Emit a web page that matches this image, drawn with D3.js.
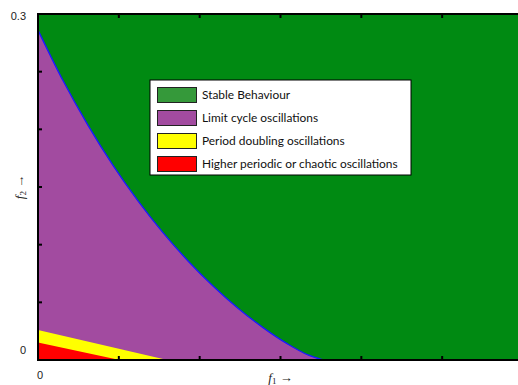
<!DOCTYPE html>
<html>
<head>
<meta charset="utf-8">
<script src="https://cdn.jsdelivr.net/npm/d3@7"></script>
<style>
  html, body { margin: 0; padding: 0; background: #fff; }
  svg { display: block; }
</style>
</head>
<body>
<script>
// Stability map of the (f1, f2) parameter plane.

// Boundary between stable behaviour and limit cycle oscillations
const boundaryF1 = [0, 0.0309, 0.0619, 0.0928, 0.1237, 0.1546, 0.1856, 0.2165, 0.2474, 0.2784, 0.3093, 0.3340, 0.3526];
const boundaryF2 = [0.2861, 0.2423, 0.2034, 0.1687, 0.1379, 0.1104, 0.0859, 0.0642, 0.0449, 0.0281, 0.0137, 0.0044, 0];

// Upper edge of the period doubling region
const doublingF1 = [0, 0.160];
const doublingF2 = [0.026, 0];

// Upper edge of the higher periodic / chaotic region
const chaoticF1 = [0, 0.101];
const chaoticF2 = [0.0152, 0];

const legendLabels = [
  "Stable Behaviour",
  "Limit cycle oscillations",
  "Period doubling oscillations",
  "Higher periodic or chaotic oscillations"
];
const regionColors = ["#008a12", "#a24ba0", "#ffff00", "#ff0000"];
const legendSwatchColors = ["#35993a", "#a24ba0", "#ffff00", "#ff0000"];

const xDomain = [0, 0.6];
const yDomain = [0, 0.3];
const xTicks = [0, 0.1, 0.2, 0.3, 0.4, 0.5, 0.6];
const yTicks = [0, 0.05, 0.1, 0.15, 0.2, 0.25, 0.3];
const xTickLabels = ["0"];
const yTickLabels = ["0", "0.3"];

const W = 518, H = 385;
const margin = { left: 38, top: 14, right: -5, bottom: 25 };

const svg = d3.select("body").append("svg").attr("width", W).attr("height", H);

const x = d3.scaleLinear().domain(xDomain).range([margin.left, W - margin.right]);
const y = d3.scaleLinear().domain(yDomain).range([H - margin.bottom, margin.top]);

const zip = (a, b) => a.map((v, i) => [v, b[i]]);

svg.append("clipPath").attr("id", "plotClip")
  .append("rect")
  .attr("x", x(xDomain[0])).attr("y", y(yDomain[1]))
  .attr("width", x(xDomain[1]) - x(xDomain[0]))
  .attr("height", y(yDomain[0]) - y(yDomain[1]));

const plot = svg.append("g").attr("clip-path", "url(#plotClip)");

// Stable region fills the whole plane
plot.append("rect")
  .attr("x", x(xDomain[0])).attr("y", y(yDomain[1]))
  .attr("width", x(xDomain[1]) - x(xDomain[0]))
  .attr("height", y(yDomain[0]) - y(yDomain[1]))
  .attr("fill", regionColors[0]);

const area = (curve) => d3.area()
  .x(d => x(d[0])).y0(y(0)).y1(d => y(d[1])).curve(curve);

plot.append("path").datum(zip(boundaryF1, boundaryF2))
  .attr("d", area(d3.curveMonotoneX)).attr("fill", regionColors[1]);
plot.append("path").datum(zip(doublingF1, doublingF2))
  .attr("d", area(d3.curveLinear)).attr("fill", regionColors[2]);
plot.append("path").datum(zip(chaoticF1, chaoticF2))
  .attr("d", area(d3.curveLinear)).attr("fill", regionColors[3]);

plot.append("path").datum(zip(boundaryF1, boundaryF2))
  .attr("d", d3.line().x(d => x(d[0])).y(d => y(d[1])).curve(d3.curveMonotoneX))
  .attr("fill", "none").attr("stroke", "#1a1aff").attr("stroke-width", 1.4);

// Frame and inward ticks
const frame = svg.append("g");
const tickLen = 4;
frame.append("rect")
  .attr("x", x(xDomain[0])).attr("y", y(yDomain[1]))
  .attr("width", x(xDomain[1]) - x(xDomain[0]))
  .attr("height", y(yDomain[0]) - y(yDomain[1]))
  .attr("fill", "none").attr("stroke", "#000").attr("stroke-width", 2);

frame.selectAll("line.xb").data(xTicks).join("line")
  .attr("x1", d => x(d)).attr("x2", d => x(d))
  .attr("y1", y(0)).attr("y2", y(0) - tickLen)
  .attr("stroke", "#000").attr("stroke-width", 2);
frame.selectAll("line.xt").data(xTicks).join("line")
  .attr("x1", d => x(d)).attr("x2", d => x(d))
  .attr("y1", y(yDomain[1])).attr("y2", y(yDomain[1]) + tickLen)
  .attr("stroke", "#000").attr("stroke-width", 2);
frame.selectAll("line.yl").data(yTicks).join("line")
  .attr("x1", x(0)).attr("x2", x(0) + tickLen)
  .attr("y1", d => y(d)).attr("y2", d => y(d))
  .attr("stroke", "#000").attr("stroke-width", 2);

// Tick labels
const tickFont = "'Liberation Sans', Arial, sans-serif";
svg.append("text").text(yTickLabels[1])
  .attr("x", x(0) - 12).attr("y", y(0.3) + 6)
  .attr("text-anchor", "end").attr("font-family", tickFont).attr("font-size", 11).attr("fill", "#222");
svg.append("text").text(yTickLabels[0])
  .attr("x", x(0) - 12).attr("y", y(0) - 6)
  .attr("text-anchor", "end").attr("font-family", tickFont).attr("font-size", 11).attr("fill", "#222");
svg.append("text").text(xTickLabels[0])
  .attr("x", x(0) + 2).attr("y", y(0) + 19)
  .attr("text-anchor", "middle").attr("font-family", tickFont).attr("font-size", 11).attr("fill", "#222");

// Axis titles
const serif = "'Liberation Serif', 'Times New Roman', serif";
const xt = svg.append("text")
  .attr("x", (x(xDomain[0]) + x(xDomain[1])) / 2).attr("y", H - 3)
  .attr("text-anchor", "middle").attr("font-family", serif).attr("font-size", 13).attr("fill", "#222");
xt.append("tspan").attr("font-style", "italic").text("f");
xt.append("tspan").attr("font-size", 9).attr("dy", 2).text("1");
xt.append("tspan").attr("dy", -2).text(" \u2192");

const yt = svg.append("text")
  .attr("transform", `translate(24, ${(y(0) + y(0.3)) / 2}) rotate(-90)`)
  .attr("text-anchor", "middle").attr("font-family", serif).attr("font-size", 13).attr("fill", "#222");
yt.append("tspan").attr("font-style", "italic").text("f");
yt.append("tspan").attr("font-size", 9).attr("dy", 2).text("2");
yt.append("tspan").attr("dy", -2).text(" \u2192");

// Legend
const lg = svg.append("g").attr("transform", "translate(150,80)");
lg.append("rect").attr("width", 261).attr("height", 95)
  .attr("fill", "#fff").attr("stroke", "#000").attr("stroke-width", 1);
const rows = lg.selectAll("g.row").data(legendLabels).join("g")
  .attr("transform", (d, i) => `translate(0, ${7.5 + i * 23})`);
rows.append("rect").attr("x", 7.5).attr("width", 39).attr("height", 15)
  .attr("fill", (d, i) => legendSwatchColors[i]).attr("stroke", "#222").attr("stroke-width", 1);
rows.append("text").text(d => d)
  .attr("x", 52).attr("y", 11.5)
  .attr("font-family", "Lato, 'Open Sans', sans-serif").attr("font-size", 11.9).attr("fill", "#111");
</script>
</body>
</html>
